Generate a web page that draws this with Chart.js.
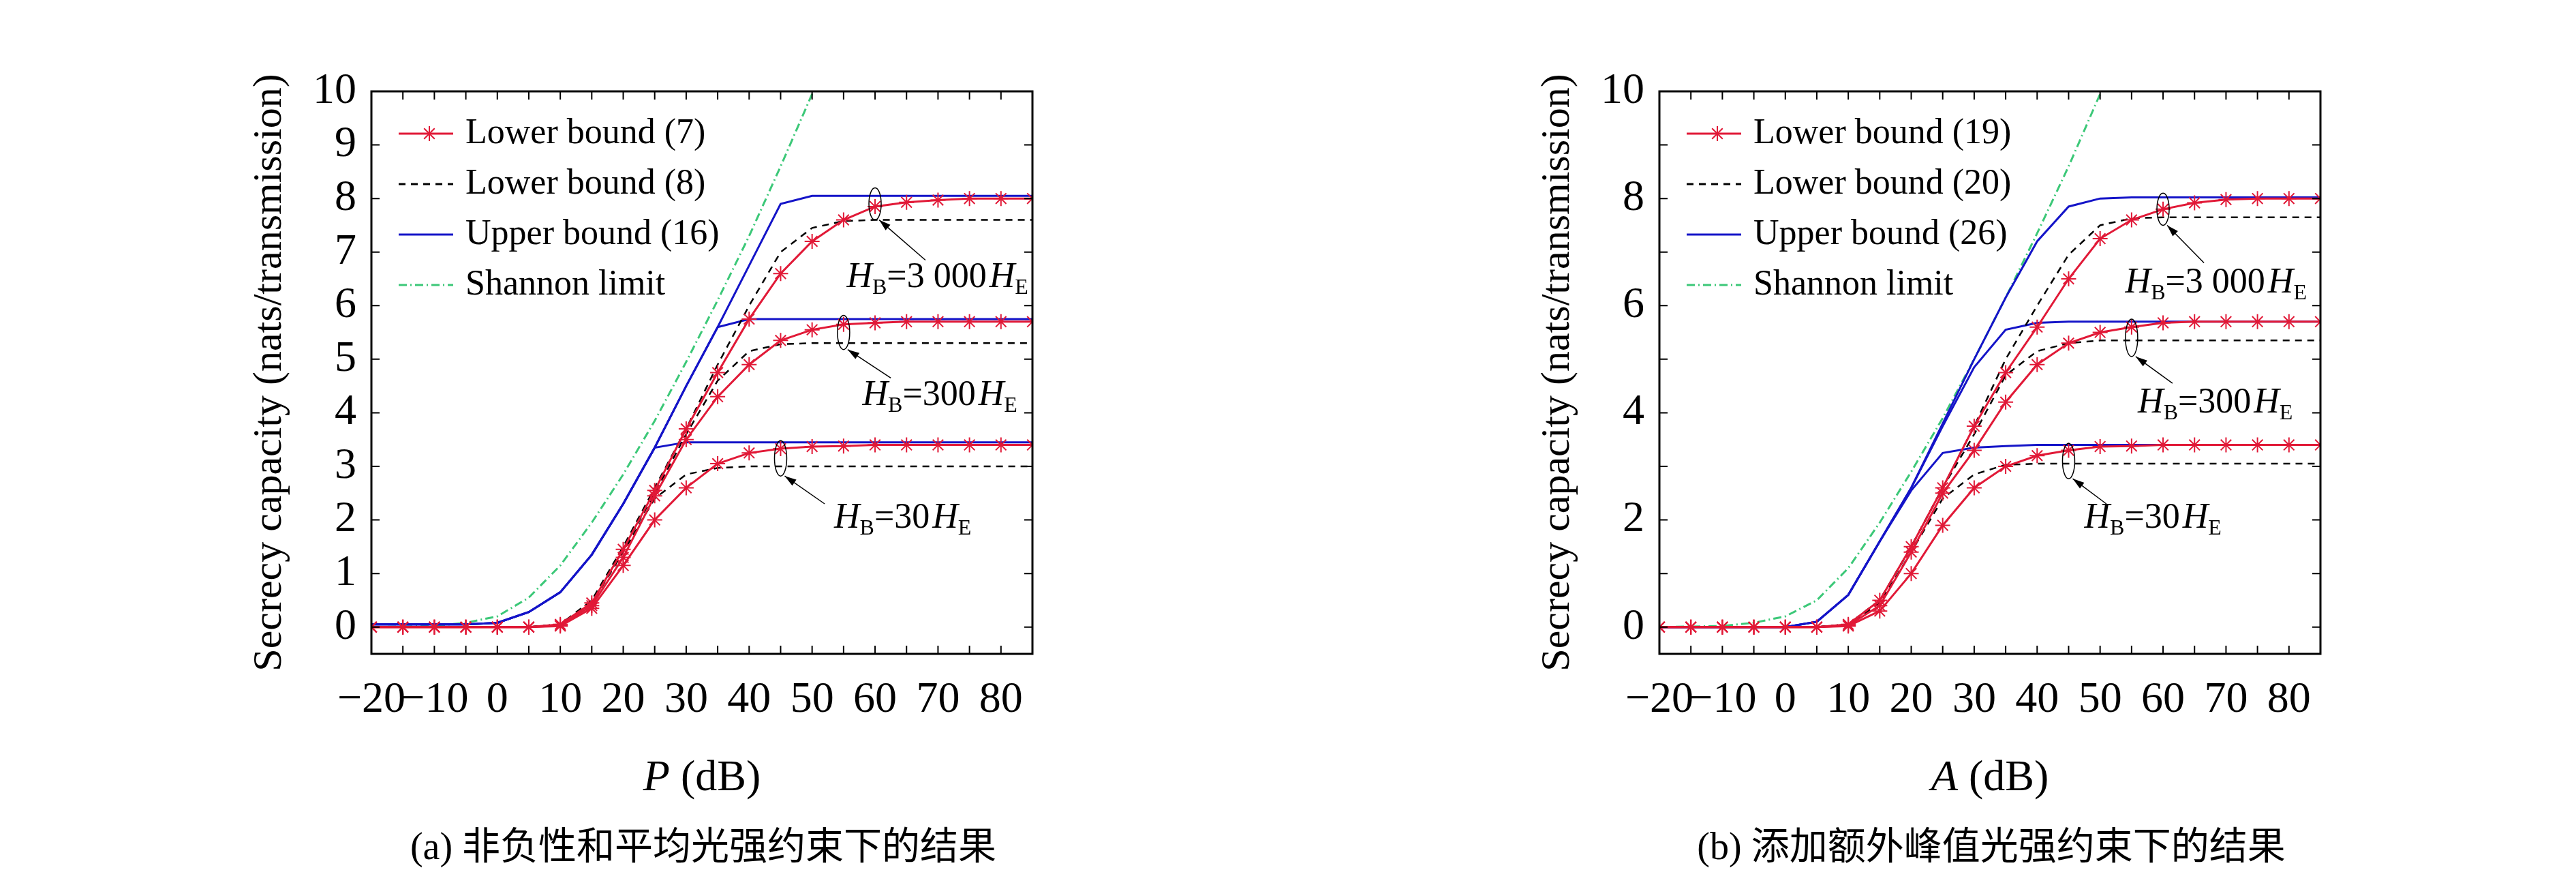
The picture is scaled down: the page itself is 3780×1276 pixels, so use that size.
<!DOCTYPE html>
<html>
<head>
<meta charset="utf-8">
<script src="https://cdn.jsdelivr.net/npm/chart.js@4.4.0/dist/chart.umd.min.js"></script>
<style>
  body { margin: 0; background: #fff; width: 3780px; height: 1276px; position: relative; overflow: hidden; }
  canvas { position: absolute; top: 0; }
  .cap { position: absolute; top: 1195px; font: 56px "Liberation Serif", "Noto Sans CJK SC", serif; white-space: nowrap; transform: translateX(-50%); }
</style>
</head>
<body>
<canvas id="chartA" width="1200" height="1180" style="left:360px"></canvas>
<canvas id="chartB" width="1200" height="1180" style="left:2250px"></canvas>
<div class="cap" style="left:1032px">(a) 非负性和平均光强约束下的结果</div>
<div class="cap" style="left:2922px">(b) 添加额外峰值光强约束下的结果</div>
<script>
const xs = [-20, -15, -10, -5, 0, 5, 10, 15, 20, 25, 30, 35, 40, 45, 50, 55, 60, 65, 70, 75, 80, 85];
const RED = "rgb(225,25,55)";
const BLUE = "rgb(20,20,200)";
const GREEN = "rgb(60,200,120)";

// values per x in xs
const figA = {
  names: ["Lower bound (7)", "Lower bound (8)", "Upper bound (16)"],
  lower: [
    [0,0,0,0,0,0,0.02,0.35,1.15,2.0,2.6,3.05,3.25,3.33,3.37,3.38,3.4,3.4,3.4,3.4,3.4,3.4],
    [0,0,0,0,0,0,0.03,0.4,1.3,2.45,3.5,4.3,4.9,5.35,5.55,5.65,5.68,5.7,5.7,5.7,5.7,5.7],
    [0,0,0,0,0,0,0.05,0.45,1.45,2.55,3.7,4.75,5.75,6.6,7.2,7.6,7.85,7.93,7.97,8.0,8.0,8.0],
  ],
  dashed: [
    [0,0,0,0,0,0,0.05,0.45,1.4,2.4,2.85,2.97,3.0,3.0,3.0,3.0,3.0,3.0,3.0,3.0,3.0,3.0],
    [0,0,0,0,0,0,0.05,0.45,1.45,2.5,3.6,4.6,5.15,5.28,5.3,5.3,5.3,5.3,5.3,5.3,5.3,5.3],
    [0,0,0,0,0,0,0.05,0.5,1.5,2.6,3.7,4.9,6.0,7.0,7.45,7.58,7.6,7.6,7.6,7.6,7.6,7.6],
  ],
  upper: [
    [0.05,0.05,0.05,0.05,0.08,0.28,0.65,1.35,2.3,3.35,3.45,3.45,3.45,3.45,3.45,3.45,3.45,3.45,3.45,3.45,3.45,3.45],
    [0.05,0.05,0.05,0.05,0.08,0.28,0.65,1.35,2.3,3.35,4.5,5.6,5.75,5.75,5.75,5.75,5.75,5.75,5.75,5.75,5.75,5.75],
    [0.05,0.05,0.05,0.05,0.08,0.28,0.65,1.35,2.3,3.35,4.5,5.6,6.75,7.9,8.05,8.05,8.05,8.05,8.05,8.05,8.05,8.05],
  ],
  shannon: [0,0.01,0.02,0.08,0.2,0.55,1.15,1.95,2.85,3.85,4.95,6.1,7.3,8.6,9.95],
  yStep: 1,
  xName: "P",
  notes: [
    { x: 60, y: 7.9, ry: 0.3, ax: 68, ay: 6.85, tx: 55.5, ty: 6.35, label: "3 000" },
    { x: 55, y: 5.5, ry: 0.32, ax: 62.5, ay: 4.65, tx: 58, ty: 4.15, label: "300" },
    { x: 45, y: 3.15, ry: 0.33, ax: 52, ay: 2.3, tx: 53.5, ty: 1.85, label: "30" },
  ],
};

const figB = {
  names: ["Lower bound (19)", "Lower bound (20)", "Upper bound (26)"],
  lower: [
    [0,0,0,0,0,0,0.02,0.3,1.0,1.9,2.6,3.0,3.2,3.3,3.37,3.38,3.4,3.4,3.4,3.4,3.4,3.4],
    [0,0,0,0,0,0,0.03,0.4,1.4,2.5,3.3,4.2,4.9,5.3,5.5,5.6,5.68,5.7,5.7,5.7,5.7,5.7],
    [0,0,0,0,0,0,0.05,0.5,1.5,2.6,3.75,4.75,5.6,6.5,7.25,7.6,7.8,7.92,7.98,8.0,8.0,8.0],
  ],
  dashed: [
    [0,0,0,0,0,0,0.05,0.45,1.4,2.4,2.85,3.03,3.05,3.05,3.05,3.05,3.05,3.05,3.05,3.05,3.05,3.05],
    [0,0,0,0,0,0,0.05,0.5,1.5,2.6,3.6,4.7,5.15,5.3,5.35,5.35,5.35,5.35,5.35,5.35,5.35,5.35],
    [0,0,0,0,0,0,0.05,0.5,1.5,2.6,3.75,5.0,6.0,6.95,7.5,7.63,7.65,7.65,7.65,7.65,7.65,7.65],
  ],
  upper: [
    [0,0,0,0,0,0.1,0.6,1.6,2.55,3.25,3.35,3.38,3.4,3.4,3.4,3.4,3.4,3.4,3.4,3.4,3.4,3.4],
    [0,0,0,0,0,0.1,0.6,1.6,2.6,3.75,4.85,5.55,5.68,5.7,5.7,5.7,5.7,5.7,5.7,5.7,5.7,5.7],
    [0,0,0,0,0,0.1,0.6,1.6,2.6,3.8,5.0,6.15,7.2,7.85,8.0,8.02,8.02,8.02,8.02,8.02,8.02,8.02],
  ],
  shannon: [0,0.01,0.02,0.08,0.2,0.5,1.1,1.95,2.9,3.9,5.0,6.15,7.35,8.6,9.95],
  yStep: 2,
  xName: "A",
  notes: [
    { x: 60, y: 7.8, ry: 0.3, ax: 66.5, ay: 6.8, tx: 54, ty: 6.25, label: "3 000" },
    { x: 55, y: 5.4, ry: 0.35, ax: 61.5, ay: 4.55, tx: 56, ty: 4.0, label: "300" },
    { x: 45, y: 3.1, ry: 0.33, ax: 51, ay: 2.3, tx: 47.5, ty: 1.85, label: "30" },
  ],
};

const FONT = '"Liberation Serif", "DejaVu Serif", serif';

// box, inward ticks, legend, x title and the H_B notes
const decor = {
  id: "decor",
  afterDraw(chart) {
    const { ctx, chartArea: a, scales: { x, y } } = chart;
    const fig = chart.options.plugins.decor.fig;
    ctx.save();
    ctx.strokeStyle = "#000";
    ctx.lineWidth = 3;
    ctx.strokeRect(a.left, a.top, a.right - a.left, a.bottom - a.top);
    ctx.lineWidth = 2;
    for (let v = -20; v <= 85; v += 5) {
      const px = x.getPixelForValue(v);
      ctx.beginPath();
      ctx.moveTo(px, a.bottom); ctx.lineTo(px, a.bottom - 12);
      ctx.moveTo(px, a.top); ctx.lineTo(px, a.top + 12);
      ctx.stroke();
    }
    for (let v = 0; v <= 10; v += 1) {
      const py = y.getPixelForValue(v);
      ctx.beginPath();
      ctx.moveTo(a.left, py); ctx.lineTo(a.left + 12, py);
      ctx.moveTo(a.right, py); ctx.lineTo(a.right - 12, py);
      ctx.stroke();
    }

    // x title with italic variable
    ctx.fillStyle = "#000";
    ctx.textBaseline = "alphabetic";
    ctx.font = "italic 64px " + FONT;
    const w1 = ctx.measureText(fig.xName + " ").width;
    ctx.font = "64px " + FONT;
    const w2 = ctx.measureText("(dB)").width;
    const tx0 = (a.left + a.right) / 2 - (w1 + w2) / 2;
    ctx.font = "italic 64px " + FONT;
    ctx.fillText(fig.xName + " ", tx0, a.bottom + 200);
    ctx.font = "64px " + FONT;
    ctx.fillText("(dB)", tx0 + w1, a.bottom + 200);

    // legend
    const items = [
      { name: fig.names[0], color: RED, dash: [], star: true },
      { name: fig.names[1], color: "#000", dash: [10, 8] },
      { name: fig.names[2], color: BLUE, dash: [] },
      { name: "Shannon limit", color: GREEN, dash: [12, 5, 2, 5] },
    ];
    ctx.font = "52px " + FONT;
    ctx.textBaseline = "middle";
    items.forEach((it, i) => {
      const ly = a.top + 62 + i * 74;
      const lx = a.left + 40;
      ctx.strokeStyle = it.color;
      ctx.lineWidth = 3;
      ctx.setLineDash(it.dash);
      ctx.beginPath(); ctx.moveTo(lx, ly); ctx.lineTo(lx + 80, ly); ctx.stroke();
      ctx.setLineDash([]);
      if (it.star) drawStar(ctx, lx + 45, ly, 11);
      ctx.fillStyle = "#000";
      ctx.fillText(it.name, lx + 98, ly);
    });

    // notes
    ctx.strokeStyle = "#000";
    ctx.lineWidth = 1.5;
    fig.notes.forEach(n => {
      const cx = x.getPixelForValue(n.x), cy = y.getPixelForValue(n.y);
      const ry = Math.abs(y.getPixelForValue(n.y + n.ry) - cy);
      ctx.beginPath(); ctx.ellipse(cx, cy, 9, ry, 0, 0, Math.PI * 2); ctx.stroke();
      const sx = cx + 6, sy = cy + ry;
      const ex = x.getPixelForValue(n.ax), ey = y.getPixelForValue(n.ay);
      ctx.beginPath(); ctx.moveTo(sx, sy); ctx.lineTo(ex, ey); ctx.stroke();
      const ang = Math.atan2(ey - sy, ex - sx);
      ctx.fillStyle = "#000";
      ctx.beginPath();
      ctx.moveTo(sx, sy);
      ctx.lineTo(sx + 18 * Math.cos(ang - 0.3), sy + 18 * Math.sin(ang - 0.3));
      ctx.lineTo(sx + 18 * Math.cos(ang + 0.3), sy + 18 * Math.sin(ang + 0.3));
      ctx.fill();
      drawHB(ctx, x.getPixelForValue(n.tx), y.getPixelForValue(n.ty), n.label);
    });
    ctx.restore();
  },
};

function drawStar(ctx, cx, cy, r) {
  ctx.save();
  ctx.strokeStyle = RED;
  ctx.lineWidth = 2;
  for (let k = 0; k < 4; k++) {
    const t = k * Math.PI / 4;
    ctx.beginPath();
    ctx.moveTo(cx - r * Math.cos(t), cy - r * Math.sin(t));
    ctx.lineTo(cx + r * Math.cos(t), cy + r * Math.sin(t));
    ctx.stroke();
  }
  ctx.restore();
}

function drawHB(ctx, px, py, num) {
  ctx.fillStyle = "#000";
  ctx.textBaseline = "alphabetic";
  let cx = px;
  const put = (t, f, dy) => { ctx.font = f; ctx.fillText(t, cx, py + dy); cx += ctx.measureText(t).width; };
  put("H", "italic 52px " + FONT, 0);
  put("B", "32px " + FONT, 10);
  put("=" + num, "52px " + FONT, 0);
  cx += 4;
  put("H", "italic 52px " + FONT, 0);
  put("E", "32px " + FONT, 10);
}

function makeChart(id, fig) {
  const pts = arr => arr.map((v, i) => ({ x: xs[i], y: v }));
  const datasets = [];
  fig.lower.forEach(s => datasets.push({
    data: pts(s), borderColor: RED, borderWidth: 3, pointStyle: "star",
    pointRadius: 11, pointBorderColor: RED, pointBorderWidth: 2, tension: 0,
  }));
  fig.dashed.forEach(s => datasets.push({
    data: pts(s), borderColor: "#000", borderWidth: 2.5, borderDash: [10, 8], pointRadius: 0,
  }));
  fig.upper.forEach(s => datasets.push({
    data: pts(s), borderColor: BLUE, borderWidth: 3, pointRadius: 0,
  }));
  datasets.push({
    data: pts(fig.shannon), borderColor: GREEN, borderWidth: 3, borderDash: [12, 5, 2, 5], pointRadius: 0,
  });

  new Chart(document.getElementById(id), {
    type: "line",
    data: { datasets },
    plugins: [decor],
    options: {
      responsive: false,
      animation: false,
      devicePixelRatio: 1,
      layout: { padding: { top: 134, right: 45, left: 0, bottom: 0 } },
      plugins: { legend: { display: false }, tooltip: { enabled: false }, decor: { fig } },
      scales: {
        x: {
          type: "linear", min: -20, max: 85,
          grid: { display: false }, border: { display: false },
          afterFit: s => { s.height = 221; },
          ticks: {
            stepSize: 5, autoSkip: false, maxRotation: 0, color: "#000", padding: 22,
            font: { size: 64, family: FONT },
            callback: v => (v % 10 === 0 ? String(v).replace("-", "\u2212") : ""),
          },
        },
        y: {
          min: -0.5, max: 10,
          grid: { display: false }, border: { display: false },
          afterFit: s => { s.width = 185; },
          afterBuildTicks: s => {
            const t = [];
            for (let v = 0; v <= 10; v += fig.yStep) t.push({ value: v });
            s.ticks = t;
          },
          ticks: {
            autoSkip: false, color: "#000", padding: 14,
            font: { size: 64, family: FONT },
          },
          title: {
            display: true, color: "#000", font: { size: 60, family: FONT },
            text: "Secrecy capacity (nats/transmission)", padding: 0,
          },
        },
      },
    },
  });
}

makeChart("chartA", figA);
makeChart("chartB", figB);
</script>
</body>
</html>
